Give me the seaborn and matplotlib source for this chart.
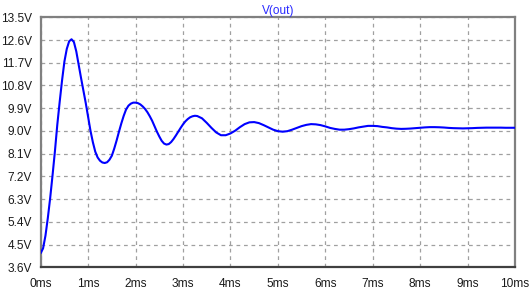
import matplotlib
matplotlib.use("Agg")
import matplotlib.pyplot as plt
import seaborn as sns
import pandas as pd

# ---- data ----
time_ms = [
    0.00, 0.05, 0.10, 0.15, 0.20, 0.25, 0.30, 0.35, 0.40, 0.45,
    0.50, 0.55, 0.60, 0.65, 0.70, 0.75, 0.80, 0.85, 0.90, 0.95,
    1.00, 1.05, 1.10, 1.15, 1.20, 1.25, 1.30, 1.35, 1.40, 1.45,
    1.50, 1.55, 1.60, 1.65, 1.70, 1.75, 1.80, 1.85, 1.90, 1.95,
    2.00, 2.05, 2.10, 2.15, 2.20, 2.25, 2.30, 2.35, 2.40, 2.45,
    2.50, 2.55, 2.60, 2.65, 2.70, 2.75, 2.80, 2.85, 2.90, 2.95,
    3.00, 3.05, 3.10, 3.15, 3.20, 3.25, 3.30, 3.40, 3.50, 3.60,
    3.70, 3.80, 3.90, 4.00, 4.10, 4.20, 4.30, 4.40, 4.50, 4.60,
    4.70, 4.80, 4.90, 5.00, 5.10, 5.20, 5.30, 5.40, 5.50, 5.60,
    5.70, 5.80, 5.90, 6.00, 6.10, 6.20, 6.30, 6.40, 6.50, 6.60,
    6.70, 6.80, 6.90, 7.00, 7.10, 7.20, 7.30, 7.40, 7.50, 7.60,
    7.70, 7.80, 7.90, 8.00, 8.10, 8.20, 8.30, 8.40, 8.50, 8.60,
    8.70, 8.80, 8.90, 9.00, 9.10, 9.20, 9.30, 9.40, 9.50, 9.60,
    9.70, 9.80, 9.90, 10.00,
]
v_out = [
    4.16, 4.35, 4.85, 5.55, 6.35, 7.25, 8.20, 9.25, 10.15, 11.00,
    11.75, 12.25, 12.55, 12.63, 12.52, 12.15, 11.62, 11.10, 10.60, 10.10,
    9.55, 9.00, 8.55, 8.18, 7.95, 7.82, 7.75, 7.73, 7.76, 7.86,
    8.02, 8.30, 8.62, 8.97, 9.30, 9.60, 9.85, 10.00, 10.08, 10.12,
    10.12, 10.10, 10.05, 9.97, 9.87, 9.74, 9.58, 9.40, 9.18, 8.97,
    8.78, 8.61, 8.50, 8.46, 8.48, 8.56, 8.68, 8.82, 8.97, 9.12,
    9.26, 9.38, 9.47, 9.54, 9.58, 9.60, 9.59, 9.50, 9.32, 9.12,
    8.94, 8.83, 8.83, 8.90, 9.01, 9.15, 9.27, 9.34, 9.35, 9.31,
    9.23, 9.14, 9.05, 8.99, 8.97, 8.99, 9.05, 9.12, 9.19, 9.24,
    9.27, 9.26, 9.23, 9.18, 9.12, 9.08, 9.05, 9.05, 9.07, 9.10,
    9.14, 9.17, 9.20, 9.20, 9.19, 9.16, 9.14, 9.11, 9.09, 9.08,
    9.085, 9.095, 9.11, 9.125, 9.14, 9.15, 9.15, 9.145, 9.135, 9.12,
    9.11, 9.105, 9.10, 9.105, 9.11, 9.12, 9.125, 9.13, 9.13, 9.13,
    9.13, 9.125, 9.125, 9.125,
]
x_ticks = [0, 1, 2, 3, 4, 5, 6, 7, 8, 9, 10]
x_tick_labels = ["0ms", "1ms", "2ms", "3ms", "4ms", "5ms", "6ms", "7ms", "8ms", "9ms", "10ms"]
y_ticks = [3.6, 4.5, 5.4, 6.3, 7.2, 8.1, 9.0, 9.9, 10.8, 11.7, 12.6, 13.5]
y_tick_labels = ["3.6V", "4.5V", "5.4V", "6.3V", "7.2V", "8.1V", "9.0V", "9.9V",
                 "10.8V", "11.7V", "12.6V", "13.5V"]
title = "V(out)"

df = pd.DataFrame({"t": time_ms, "v": v_out})

sns.set_style("white")
plt.rcParams["font.family"] = ["Liberation Sans", "DejaVu Sans"]

fig = plt.figure(figsize=(5.30, 2.92), dpi=100)
ax = fig.add_axes([0.0768, 0.0846, 0.8950, 0.8562])

sns.lineplot(data=df, x="t", y="v", ax=ax, color="#0000ff", linewidth=1.5,
             estimator=None, sort=False, zorder=3)

ax.set_xlim(0, 10)
ax.set_ylim(3.6, 13.5)
ax.set_xticks(x_ticks)
ax.set_xticklabels(x_tick_labels)
ax.set_yticks(y_ticks)
ax.set_yticklabels(y_tick_labels)
ax.set_xlabel("")
ax.set_ylabel("")

ax.grid(True, color="#a0a0a0", linestyle=(0, (3, 3)), linewidth=0.9)
ax.tick_params(axis="both", which="major", direction="out", length=5, width=1,
               color="#333333", labelsize=8.6, labelcolor="#1a1a1a", pad=1.2)
ax.tick_params(axis="x", pad=3)

for side in ["left", "top", "right"]:
    ax.spines[side].set_color("#808080")
    ax.spines[side].set_linewidth(1.6)
ax.spines["bottom"].set_color("#404040")
ax.spines["bottom"].set_linewidth(1.6)

ax.set_title(title, color="#2a2aff", fontsize=8.6, pad=2.5)

fig.savefig("out.png", dpi=100, facecolor="white")
